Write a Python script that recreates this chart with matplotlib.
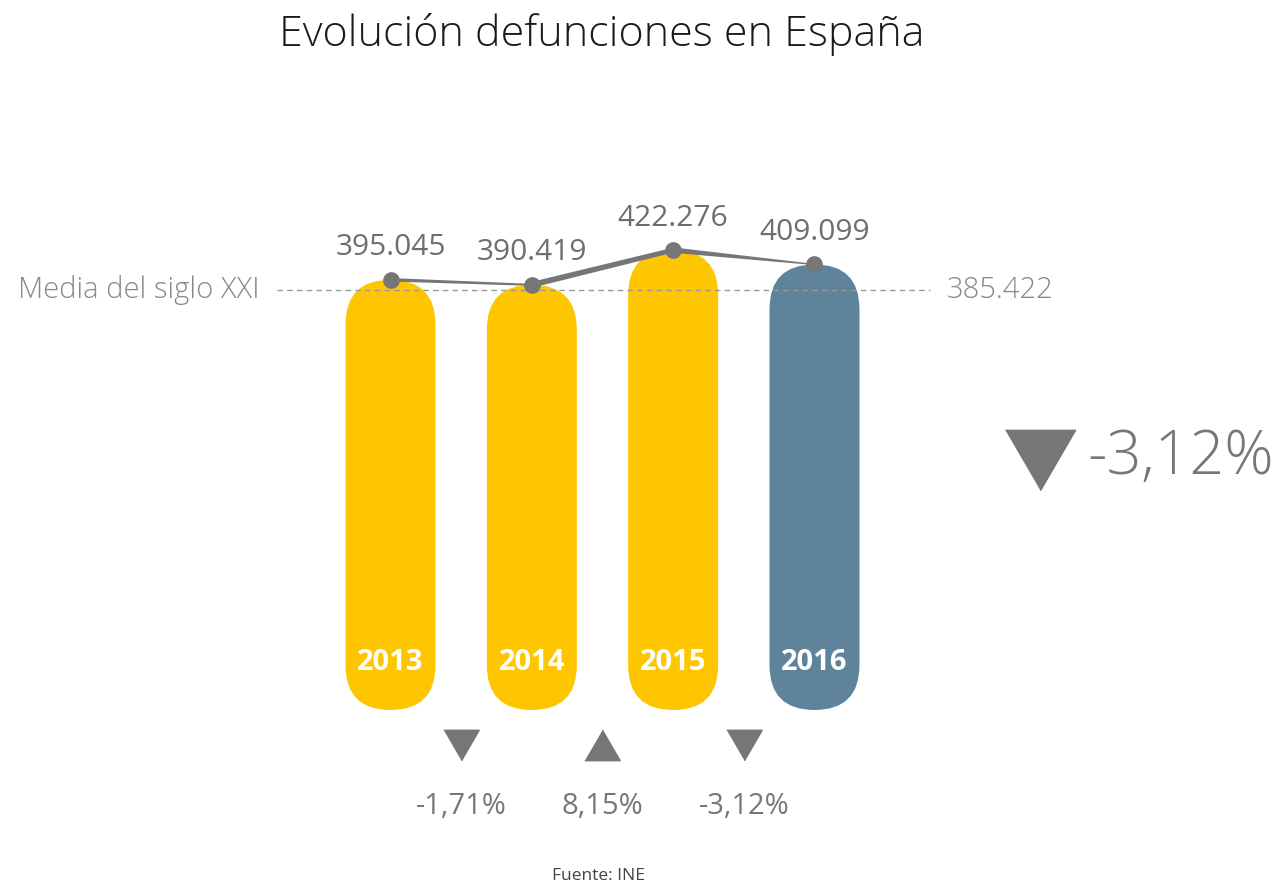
import matplotlib
matplotlib.use('Agg')
import matplotlib.pyplot as plt
import matplotlib.transforms as mtransforms
from matplotlib.patches import FancyBboxPatch, Polygon

plt.rcParams['font.family'] = ['Open Sans', 'DejaVu Sans']

# datos
years = ['2013', '2014', '2015', '2016']
deaths = [395.045, 390.419, 422.276, 409.099]
value_labels = ['395.045', '390.419', '422.276', '409.099']
pct_labels = ['-1,71%', '8,15%', '-3,12%']
pct_signs = [-1, 1, -1]
mean_value = 385.422
mean_label = '385.422'

yellow = '#fec600'
blue = '#5f839b'
grey = '#767676'
bar_colors = [yellow, yellow, yellow, blue]

W, H, DPI = 1277, 886, 100
fig = plt.figure(figsize=(W / DPI, H / DPI), dpi=DPI)

# ejes colocados en pixeles
step_px = 141.33
left_px = 390.5 - step_px / 2
base_px = 710
ymax = 450
ppu = 1.089  # pixeles por unidad en y
ax = fig.add_axes([left_px / W, (H - base_px) / H, 4 * step_px / W, ymax * ppu / H])
ax.set_xlim(-0.5, 3.5)
ax.set_ylim(0, ymax)
ax.axis('off')

x = list(range(len(years)))

# barras redondeadas (pildoras)
bar_w = 90 / step_px
ry = 45 / ppu
for i, v in enumerate(deaths):
    p = FancyBboxPatch((i - bar_w / 2, 0), bar_w, v,
                       boxstyle="round,pad=0,rounding_size=%f" % (bar_w / 2),
                       mutation_aspect=ry / (bar_w / 2),
                       fc=bar_colors[i], ec='none', zorder=1)
    ax.add_patch(p)
    ax.annotate(years[i], (i, 0), xytext=(0, 47 * 0.72), textcoords='offset points',
                ha='center', va='center', color='white', fontsize=21,
                fontweight='bold', zorder=3)

# media
ax.plot([-0.8, 3.82], [mean_value, mean_value], color='#9a9a9a', lw=1,
        dashes=(4, 3), clip_on=False, zorder=2)
blend = mtransforms.blended_transform_factory(fig.transFigure, ax.transData)
fig.text(260 / W, mean_value, 'Media del siglo XXI', transform=blend, ha='right',
         va='center', fontsize=21, fontweight='light', color='#888888')
fig.text(947 / W, mean_value, mean_label, transform=blend, ha='left',
         va='center', fontsize=21, fontweight='light', color='#888888')

# linea con grosor variable
w_start = [3.5, 6.0, 5.5]
w_end = [2.0, 5.0, 1.2]
for i in range(len(deaths) - 1):
    h0 = w_start[i] / ppu / 2
    h1 = w_end[i] / ppu / 2
    poly = Polygon([(i, deaths[i] + h0), (i + 1, deaths[i + 1] + h1),
                    (i + 1, deaths[i + 1] - h1), (i, deaths[i] - h0)],
                   closed=True, fc=grey, ec='none', zorder=4)
    ax.add_patch(poly)
ax.plot(x, deaths, 'o', color=grey, ms=11, zorder=5, clip_on=False)

for i, v in enumerate(deaths):
    ax.annotate(value_labels[i], (i, v), xytext=(0, 32 * 0.72), textcoords='offset points',
                ha='center', va='center', fontsize=21.5, color='#6e6e6e')

# variaciones interanuales
down = [(-0.5, 0.43), (0.5, 0.43), (0, -0.43)]
up = [(-0.5, -0.43), (0.5, -0.43), (0, 0.43)]
tri_off = mtransforms.ScaledTranslation(0, -(745 - base_px) / DPI, fig.dpi_scale_trans)
for i, lab in enumerate(pct_labels):
    xm = i + 0.5
    ax.plot([xm], [0], marker=down if pct_signs[i] < 0 else up, ms=25.5,
            color=grey, transform=ax.transData + tri_off, clip_on=False, lw=0)
    ax.annotate(lab, (xm, 0), xytext=(0, -(806 - base_px) * 0.72), textcoords='offset points',
                ha='center', va='center', fontsize=21, color='#777777')

# variacion final destacada
big_tri = down if pct_signs[-1] < 0 else up
fig.add_artist(plt.Line2D([1040 / W], [1 - 460 / H], marker=big_tri, ms=50.5,
                          color=grey, lw=0, transform=fig.transFigure))
fig.text(1087 / W, 1 - 458 / H, pct_labels[-1], ha='left', va='center',
         fontsize=44, fontweight='light', color='#777777')

fig.text(602 / W, 1 - 35 / H, 'Evolución defunciones en España', ha='center',
         va='center', fontsize=31, fontweight='light', color='#1a1a1a')
fig.text(598 / W, 1 - 876 / H, 'Fuente: INE', ha='center', va='center',
         fontsize=12.5, color='#444444')

fig.savefig('out.png', dpi=DPI)
